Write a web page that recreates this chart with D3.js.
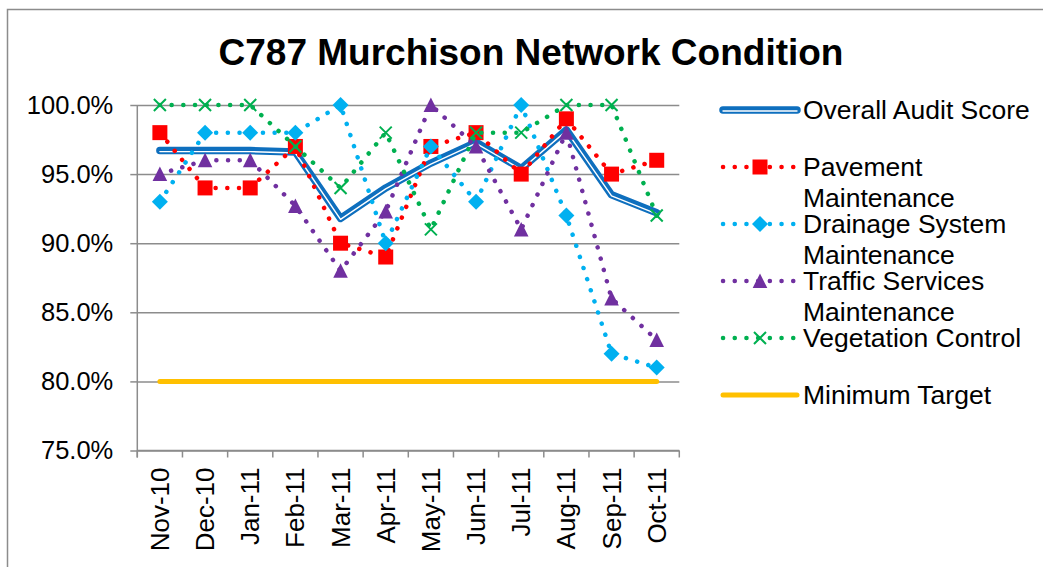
<!DOCTYPE html>
<html>
<head>
<meta charset="utf-8">
<script src="https://cdn.jsdelivr.net/npm/d3@7"></script>
<style>
  body { margin: 0; background: #fff; }
  svg { display: block; font-family: "Liberation Sans", Arial, sans-serif; }
</style>
</head>
<body>
<svg id="chart" width="1043" height="567"></svg>
<script>
const months = ['Nov-10', 'Dec-10', 'Jan-11', 'Feb-11', 'Mar-11', 'Apr-11', 'May-11', 'Jun-11', 'Jul-11', 'Aug-11', 'Sep-11', 'Oct-11']
const overall = [0.967, 0.967, 0.967, 0.966, 0.918, 0.940, 0.958, 0.973, 0.954, 0.982, 0.935, 0.922]
const pavement = [0.98, 0.94, 0.94, 0.97, 0.90, 0.89, 0.97, 0.98, 0.95, 0.99, 0.95, 0.96]
const drainage = [0.93, 0.98, 0.98, 0.98, 1.00, 0.90, 0.97, 0.93, 1.00, 0.92, 0.82, 0.81]
const traffic = [0.95, 0.96, 0.96, 0.927, 0.88, 0.923, 1.00, 0.97, 0.91, 0.98, 0.86, 0.83]
const vegetation = [1.00, 1.00, 1.00, 0.97, 0.94, 0.98, 0.91, 0.98, 0.98, 1.00, 1.00, 0.92]
const target = [0.80, 0.80, 0.80, 0.80, 0.80, 0.80, 0.80, 0.80, 0.80, 0.80, 0.80, 0.80]
const yTicks = [0.75, 0.80, 0.85, 0.90, 0.95, 1.00]
const legendLabels = [
  ['Overall Audit Score'],
  ['Pavement', 'Maintenance'],
  ['Drainage System', 'Maintenance'],
  ['Traffic Services', 'Maintenance'],
  ['Vegetation Control'],
  ['Minimum Target']
]

const series = [
  { values: overall, color: '#0E6FBE', kind: 'double' },
  { values: pavement, color: '#FF0000', kind: 'dots', marker: 'square' },
  { values: drainage, color: '#00B0F0', kind: 'dots', marker: 'diamond' },
  { values: traffic, color: '#7030A0', kind: 'dots', marker: 'triangle' },
  { values: vegetation, color: '#00B050', kind: 'dots', marker: 'cross' },
  { values: target, color: '#FFC000', kind: 'solid' }
]

const svg = d3.select('#chart')
const margin = { top: 105, left: 137.3 }
const width = 542
const height = 345.5
const grey = '#8C8C8C'

// chart border
svg.append('rect')
  .attr('x', 7.5).attr('y', 9.5)
  .attr('width', 1100).attr('height', 700)
  .attr('fill', 'none').attr('stroke', grey).attr('stroke-width', 1.5)

svg.append('text')
  .attr('x', 531).attr('y', 65)
  .attr('text-anchor', 'middle')
  .attr('font-size', 37).attr('font-weight', 'bold')
  .text('C787 Murchison Network Condition')

const g = svg.append('g').attr('transform', `translate(${margin.left},${margin.top})`)

const x = d3.scaleBand().domain(months).range([0, width])
const cx = d => x(d) + x.bandwidth() / 2
const y = d3.scaleLinear().domain([0.75, 1.0]).range([height, 0])

// gridlines
g.append('g')
  .call(d3.axisLeft(y).tickValues(yTicks).tickSize(-width).tickFormat(''))
  .call(a => a.select('.domain').remove())
  .call(a => a.selectAll('line').attr('stroke', grey).attr('stroke-width', 1.5))

// y axis
g.append('g')
  .call(d3.axisLeft(y).tickValues(yTicks).tickSize(7).tickSizeOuter(0).tickPadding(17).tickFormat(d3.format('.1%')))
  .call(a => a.select('.domain').attr('stroke', grey).attr('stroke-width', 1.5).attr('d', `M0,0V${height + 7}`))
  .call(a => a.selectAll('line').attr('stroke', grey).attr('stroke-width', 1.5))
  .call(a => a.selectAll('text').attr('font-size', 25.5).attr('fill', '#000')
    .attr('font-family', '"Liberation Sans", Arial, sans-serif'))

// x axis: ticks between categories
const xg = g.append('g').attr('transform', `translate(0,${height})`)
xg.append('line').attr('x1', 0).attr('x2', width)
  .attr('stroke', grey).attr('stroke-width', 1.5)
xg.selectAll('.tick')
  .data(months.map(m => x(m)).concat([width]))
  .enter().append('line')
  .attr('x1', d => d).attr('x2', d => d)
  .attr('y1', 0).attr('y2', 7)
  .attr('stroke', grey).attr('stroke-width', 1.5)
xg.selectAll('.lbl')
  .data(months)
  .enter().append('text')
  .attr('transform', d => `translate(${cx(d)},17) rotate(-90)`)
  .attr('dy', '0.35em')
  .attr('text-anchor', 'end')
  .attr('font-size', 26)
  .text(d => d)

const line = d3.line().x((d, i) => cx(months[i])).y(d => y(d))

function markerPath (type) {
  if (type === 'square') return 'M-7.5,-7.5H7.5V7.5H-7.5Z'
  if (type === 'diamond') return 'M0,-8L8,0L0,8L-8,0Z'
  if (type === 'triangle') return 'M0,-7.5L7.3,7L-7.3,7Z'
  return 'M-6,-6L6,6M6,-6L-6,6'
}

function drawMarker (sel, s) {
  sel.append('path')
    .attr('d', markerPath(s.marker))
    .attr('fill', s.marker === 'cross' ? 'none' : s.color)
    .attr('stroke', s.color)
    .attr('stroke-width', s.marker === 'cross' ? 2 : 0)
}

function drawLine (sel, s, d) {
  if (s.kind === 'double') {
    sel.append('path').attr('d', d).attr('fill', 'none')
      .attr('stroke', s.color).attr('stroke-width', 7.5).attr('stroke-linejoin', 'round').attr('stroke-linecap', 'round')
    sel.append('path').attr('d', d).attr('fill', 'none').attr('transform', 'translate(0,1)')
      .attr('stroke', '#fff').attr('stroke-width', 1.4).attr('stroke-linejoin', 'round').attr('stroke-linecap', 'round')
  } else if (s.kind === 'dots') {
    sel.append('path').attr('d', d).attr('fill', 'none')
      .attr('stroke', s.color).attr('stroke-width', 4.5)
      .attr('stroke-linecap', 'round').attr('stroke-dasharray', '0.1 11.6')
  } else {
    sel.append('path').attr('d', d).attr('fill', 'none')
      .attr('stroke', s.color).attr('stroke-width', 5).attr('stroke-linecap', 'round')
  }
}

series.forEach(s => {
  const sg = g.append('g')
  drawLine(sg, s, line(s.values))
  if (s.marker) {
    s.values.forEach((v, i) => {
      drawMarker(sg.append('g').attr('transform', `translate(${cx(months[i])},${y(v)})`), s)
    })
  }
})

// legend
const legend = svg.append('g')
series.forEach((s, i) => {
  const ly = 110 + i * 57
  const lg = legend.append('g')
  drawLine(lg, s, `M723,${ly}H797`)
  if (s.marker) drawMarker(lg.append('g').attr('transform', `translate(760,${ly})`), s)
  legendLabels[i].forEach((t, j) => {
    lg.append('text')
      .attr('x', 803).attr('y', ly + 9 + j * 31)
      .attr('font-size', 26.5)
      .text(t)
  })
})
</script>
</body>
</html>
